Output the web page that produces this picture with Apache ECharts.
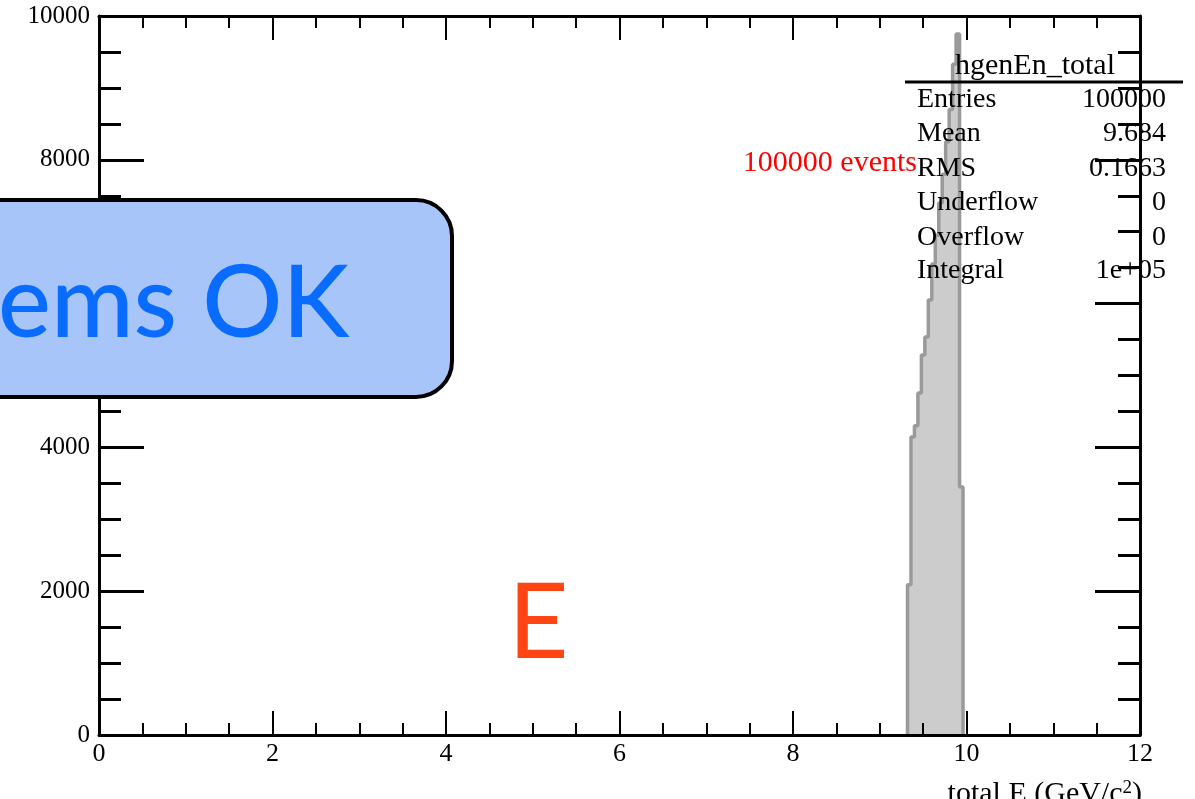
<!DOCTYPE html>
<html>
<head>
<meta charset="utf-8">
<script src="https://cdn.jsdelivr.net/npm/echarts@6/dist/echarts.min.js"></script>
<style>
html,body{margin:0;padding:0;background:#fff;}
#c{width:1195px;height:799px;}
</style>
</head>
<body>
<div id="c"></div>
<script>
// Histogram bins (left edges, GeV/c^2) and counts
const binLow = [9.32, 9.36, 9.40, 9.44, 9.48, 9.52, 9.56, 9.60, 9.64, 9.68, 9.72, 9.76, 9.80, 9.84, 9.88, 9.92];
const binHigh = [9.36, 9.40, 9.44, 9.48, 9.52, 9.56, 9.60, 9.64, 9.68, 9.72, 9.76, 9.80, 9.84, 9.88, 9.92, 9.96];
const counts = [2090, 4145, 4300, 4757, 5285, 5535, 6050, 6550, 6950, 7400, 7800, 8250, 8700, 9330, 9750, 3450];

const statNames = ['Entries', 'Mean', 'RMS', 'Underflow', 'Overflow', 'Integral'];
const statValues = ['100000', '9.684', '0.1663', '0', '0', '1e+05'];
const histName = 'hgenEn_total';
const eventsLabel = '100000 events';
const xTitle = 'total E (GeV/c';
const bannerText = 'ems OK';
const bigLetter = 'E';

// step outline points built from bin edges
const pts = [];
for (let i = 0; i < counts.length; i++) {
  if (i === 0) pts.push([binLow[i], 0]);
  pts.push([binLow[i], counts[i]]);
  pts.push([binHigh[i], counts[i]]);
  if (i === counts.length - 1) pts.push([binHigh[i], 0]);
}

const serif = '"Liberation Serif", "DejaVu Serif", serif';
const chart = echarts.init(document.getElementById('c'), null, {renderer: 'canvas'});

const axisCommon = {
  type: 'value',
  z: 10,
  axisLine: {show: true, onZero: false, lineStyle: {color: '#000', width: 3}},
  splitLine: {show: false},
};
const plain = v => String(v);

const option = {
  animation: false,
  backgroundColor: '#fff',
  grid: {left: 99, right: 55, top: 16, bottom: 64, containLabel: false},
  xAxis: [
    Object.assign({}, axisCommon, {
      position: 'bottom', min: 0, max: 12, interval: 2,
      axisTick: {show: true, inside: true, length: 24, lineStyle: {color: '#000', width: 2}},
      minorTick: {show: true, splitNumber: 4, length: 12, lineStyle: {color: '#000', width: 2}},
      axisLabel: {show: true, margin: 6, fontFamily: serif, fontSize: 26, color: '#000', formatter: plain}
    }),
    Object.assign({}, axisCommon, {
      position: 'top', min: 0, max: 12, interval: 2,
      axisTick: {show: true, inside: true, length: 24, lineStyle: {color: '#000', width: 2}},
      minorTick: {show: true, splitNumber: 4, length: 12, lineStyle: {color: '#000', width: 2}},
      axisLabel: {show: false}
    })
  ],
  yAxis: [
    Object.assign({}, axisCommon, {
      position: 'left', min: 0, max: 10000, interval: 2000,
      axisTick: {show: true, inside: true, length: 45, lineStyle: {color: '#000', width: 3}},
      minorTick: {show: true, splitNumber: 4, length: 22, lineStyle: {color: '#000', width: 3}},
      axisLabel: {show: true, margin: 9, fontFamily: serif, fontSize: 25, color: '#000', formatter: plain}
    }),
    Object.assign({}, axisCommon, {
      position: 'right', min: 0, max: 10000, interval: 2000,
      axisTick: {show: true, inside: true, length: 45, lineStyle: {color: '#000', width: 3}},
      minorTick: {show: true, splitNumber: 4, length: 22, lineStyle: {color: '#000', width: 3}},
      axisLabel: {show: false}
    })
  ],
  series: [{
    type: 'line',
    xAxisIndex: 0, yAxisIndex: 0,
    data: pts,
    symbol: 'none',
    z: 2,
    lineStyle: {color: '#9a9a9a', width: 3.5},
    areaStyle: {color: '#cccccc', opacity: 1, origin: 'start'}
  }],
  graphic: []
};

const g = [];
// stats box
g.push({type: 'text', z: 20, style: {text: histName, x: 1035, y: 66, textAlign: 'center', textVerticalAlign: 'middle', font: '30px ' + serif, fill: '#000'}});
g.push({type: 'line', z: 20, shape: {x1: 905, y1: 82, x2: 1183, y2: 82}, style: {stroke: '#000', lineWidth: 3}});
const rowY = [100, 134, 169, 203, 238, 271];
for (let i = 0; i < statNames.length; i++) {
  g.push({type: 'text', z: 20, style: {text: statNames[i], x: 917, y: rowY[i], textAlign: 'left', textVerticalAlign: 'middle', font: '28px ' + serif, fill: '#000'}});
  g.push({type: 'text', z: 20, style: {text: statValues[i], x: 1166, y: rowY[i], textAlign: 'right', textVerticalAlign: 'middle', font: '28px ' + serif, fill: '#000'}});
}
// red events label
g.push({type: 'text', z: 20, style: {text: eventsLabel, x: 917, y: 163, textAlign: 'right', textVerticalAlign: 'middle', font: '30px ' + serif, fill: '#ff0000'}});
// x axis title
g.push({type: 'text', z: 20, style: {
  rich: {b: {font: '30px ' + serif, fill: '#000'}, s: {font: '19px ' + serif, fill: '#000', verticalAlign: 'top', padding: [0,0,12,0]}},
  text: '{b|' + xTitle + '}{s|2}{b|)}', x: 1142, y: 794, textAlign: 'right', textVerticalAlign: 'middle'
}});
// banner
g.push({type: 'rect', z: 30, shape: {x: -40, y: 200, width: 492, height: 197, r: 36}, style: {fill: '#a8c5f9', stroke: '#000', lineWidth: 4}});
g.push({type: 'text', z: 31, style: {text: bannerText, x: -2, y: 355, textAlign: 'left', textVerticalAlign: 'bottom', font: '500 100px Lato, "Open Sans", sans-serif', fill: '#0a6cff', shadowColor: 'rgba(0,0,0,0.35)', shadowBlur: 5, shadowOffsetX: 2, shadowOffsetY: 3}});
// big E
g.push({type: 'text', z: 20, style: {text: bigLetter, x: 508, y: 624, textAlign: 'left', textVerticalAlign: 'middle', font: '105px Lato, "Open Sans", sans-serif', fill: '#ff4514'}});
option.graphic = g;

chart.setOption(option);
</script>
</body>
</html>
